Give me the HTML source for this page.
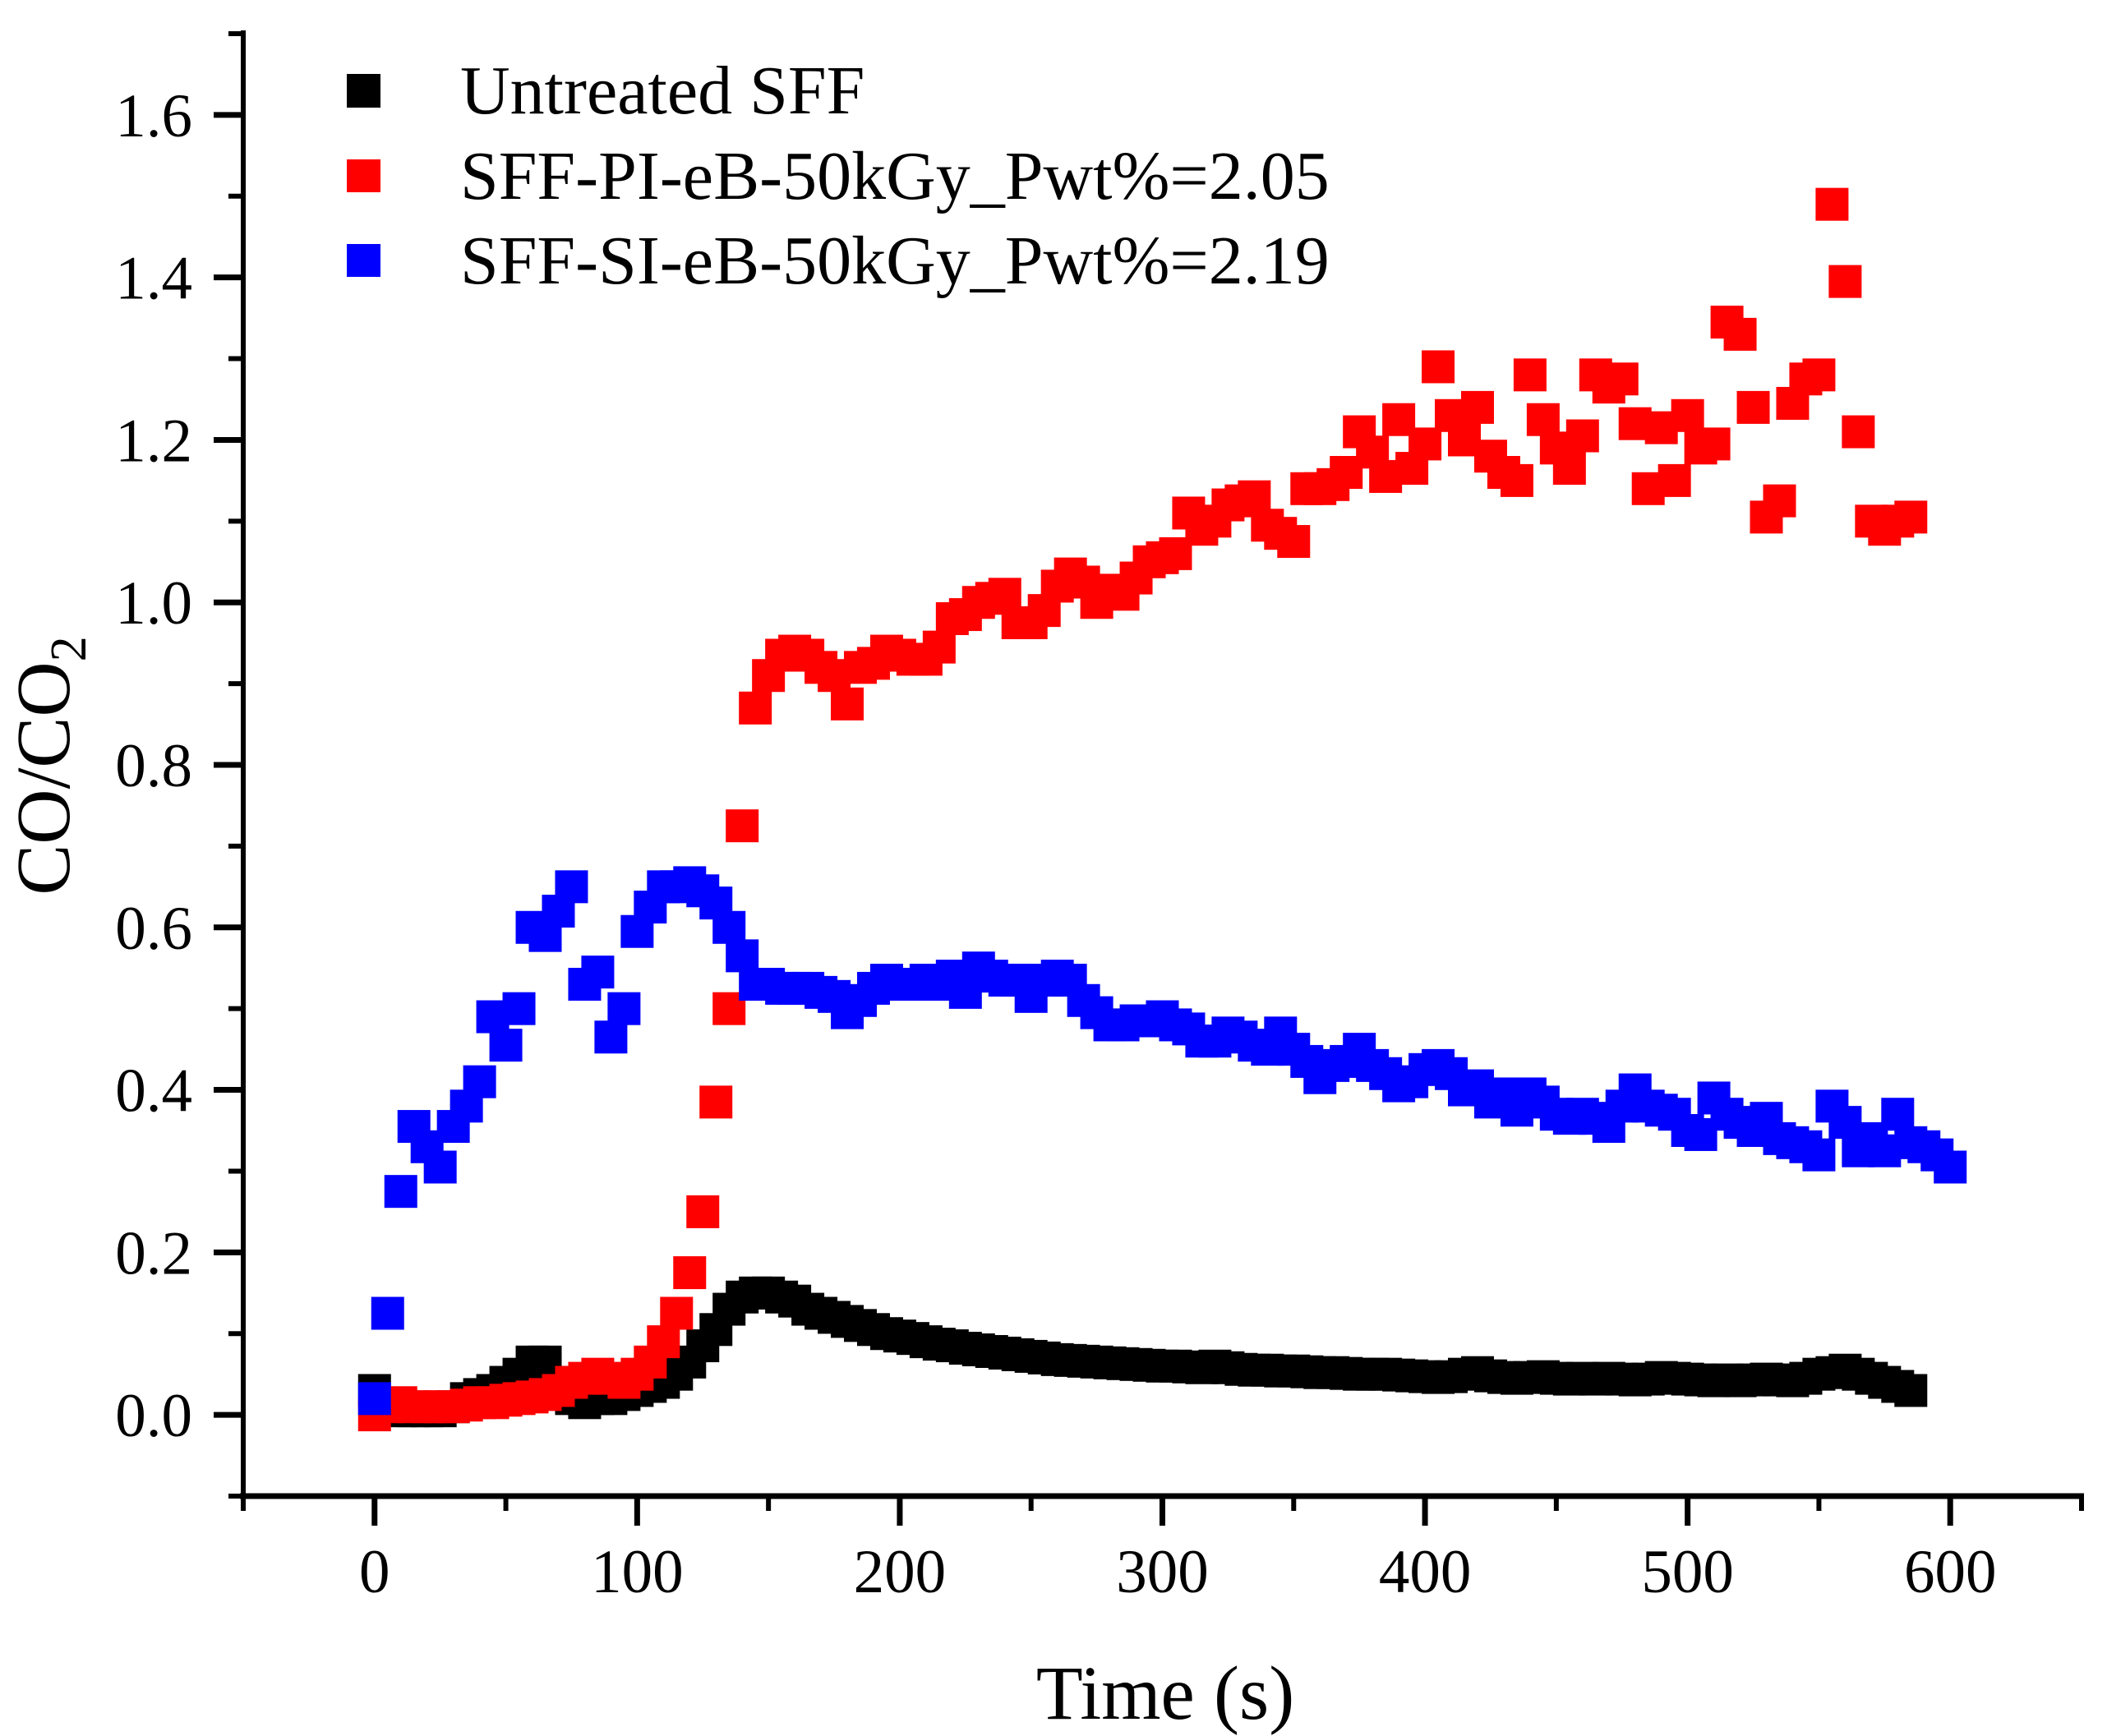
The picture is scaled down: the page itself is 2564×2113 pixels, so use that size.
<!DOCTYPE html>
<html><head><meta charset="utf-8"><style>
html,body{margin:0;padding:0;background:#fff;}
svg{display:block;font-family:"Liberation Serif",serif;}
</style></head><body>
<svg id="chart" width="2564" height="2113" viewBox="0 0 2564 2113" xmlns="http://www.w3.org/2000/svg">
<g id="marks"></g>
<g id="axes"></g>
<g>
  <rect x="422" y="90" width="41" height="41" fill="#000"/>
  <text x="560" y="138" font-size="84">Untreated SFF</text>
  <rect x="422" y="194" width="41" height="40" fill="#f00"/>
  <text x="560" y="242" font-size="84">SFF-PI-eB-50kGy_Pwt%=2.05</text>
  <rect x="422" y="297" width="41" height="40" fill="#00f"/>
  <text x="560" y="345" font-size="84">SFF-SI-eB-50kGy_Pwt%=2.19</text>
</g>
<text transform="translate(84,932) rotate(-90)" text-anchor="middle" font-size="93">CO/CO<tspan font-size="62" dy="20">2</tspan></text>
<text x="1418" y="2092" text-anchor="middle" font-size="93">Time (s)</text>
</svg>
<script>
const blackT = [0,5,10,15,20,25,30,35,40,45,50,55,60,65,70,75,80,85,90,95,100,105,110,115,120,125,130,135,140,145,150,155,160,165,170,175,180,185,190,195,200,205,210,215,220,225,230,235,240,245,250,255,260,265,270,275,280,285,290,295,300,305,310,315,320,325,330,335,340,345,350,355,360,365,370,375,380,385,390,395,400,405,410,415,420,425,430,435,440,445,450,455,460,465,470,475,480,485,490,495,500,505,510,515,520,525,530,535,540,545,550,555,560,565,570,575,580,585];
const blackV = [0.03,0.01,0.005,0.005,0.005,0.005,0.01,0.02,0.025,0.03,0.04,0.05,0.065,0.065,0.04,0.02,0.015,0.02,0.02,0.025,0.03,0.035,0.04,0.05,0.065,0.085,0.105,0.13,0.145,0.15,0.15,0.145,0.14,0.13,0.125,0.12,0.115,0.11,0.105,0.1,0.097,0.094,0.09,0.087,0.085,0.082,0.08,0.078,0.076,0.074,0.072,0.07,0.068,0.067,0.066,0.065,0.064,0.063,0.062,0.061,0.06,0.06,0.059,0.058,0.06,0.058,0.056,0.055,0.055,0.054,0.054,0.053,0.052,0.052,0.051,0.05,0.05,0.05,0.049,0.048,0.047,0.046,0.047,0.05,0.052,0.048,0.046,0.045,0.046,0.047,0.045,0.044,0.045,0.044,0.045,0.044,0.043,0.044,0.046,0.045,0.044,0.043,0.042,0.043,0.042,0.043,0.044,0.043,0.042,0.045,0.05,0.052,0.055,0.05,0.045,0.04,0.035,0.03];
const redT = [0,5,10,15,20,25,30,35,40,45,50,55,60,65,70,75,80,85,90,95,100,105,110,115,120,125,130,135,140,145,150,155,160,165,170,175,180,185,190,195,200,205,210,215,220,225,230,235,240,245,250,255,260,265,270,275,280,285,290,295,300,305,310,315,320,325,330,335,340,345,350,355,360,365,370,375,380,385,390,395,400,405,410,415,420,425,430,435,440,445,450,455,460,465,470,475,480,485,490,495,500,505,510,515,520,525,530,535,540,545,550,555,560,565,570,575,580,585];
const redV = [0.0,0.01,0.015,0.01,0.01,0.01,0.01,0.012,0.015,0.015,0.018,0.02,0.022,0.025,0.03,0.04,0.045,0.05,0.045,0.04,0.05,0.065,0.09,0.125,0.175,0.25,0.385,0.5,0.725,0.87,0.91,0.935,0.94,0.935,0.92,0.91,0.875,0.92,0.925,0.94,0.935,0.93,0.93,0.945,0.98,0.985,1.0,1.005,1.01,0.975,0.975,0.99,1.02,1.035,1.025,1.0,1.015,1.01,1.03,1.05,1.055,1.06,1.11,1.09,1.1,1.12,1.125,1.13,1.095,1.085,1.075,1.14,1.14,1.145,1.16,1.21,1.185,1.155,1.225,1.165,1.195,1.29,1.23,1.2,1.24,1.18,1.16,1.15,1.28,1.225,1.19,1.165,1.205,1.28,1.265,1.275,1.22,1.14,1.215,1.15,1.23,1.19,1.195,1.345,1.33,1.24,1.105,1.125,1.245,1.275,1.28,1.49,1.395,1.21,1.1,1.09,1.1,1.105];
const blueT = [0,5,10,15,20,25,30,35,40,45,50,55,60,65,70,75,80,85,90,95,100,105,110,115,120,125,130,135,140,145,150,155,160,165,170,175,180,185,190,195,200,205,210,215,220,225,230,235,240,245,250,255,260,265,270,275,280,285,290,295,300,305,310,315,320,325,330,335,340,345,350,355,360,365,370,375,380,385,390,395,400,405,410,415,420,425,430,435,440,445,450,455,460,465,470,475,480,485,490,495,500,505,510,515,520,525,530,535,540,545,550,555,560,565,570,575,580,585,590,595,600];
const blueV = [0.02,0.125,0.275,0.355,0.33,0.305,0.355,0.38,0.41,0.49,0.455,0.5,0.6,0.59,0.62,0.65,0.53,0.545,0.465,0.5,0.595,0.625,0.65,0.65,0.655,0.645,0.63,0.6,0.565,0.53,0.53,0.525,0.525,0.525,0.52,0.515,0.495,0.51,0.525,0.535,0.53,0.53,0.535,0.53,0.54,0.52,0.55,0.54,0.535,0.535,0.515,0.535,0.54,0.535,0.51,0.495,0.48,0.48,0.485,0.485,0.49,0.48,0.475,0.46,0.46,0.47,0.465,0.455,0.45,0.47,0.45,0.435,0.415,0.43,0.435,0.45,0.43,0.42,0.405,0.41,0.425,0.43,0.42,0.4,0.405,0.385,0.395,0.375,0.395,0.385,0.37,0.365,0.37,0.365,0.355,0.38,0.4,0.38,0.375,0.37,0.35,0.345,0.39,0.37,0.36,0.35,0.365,0.34,0.335,0.33,0.32,0.38,0.36,0.325,0.34,0.325,0.37,0.335,0.33,0.32,0.305];
const xMajorTicks = [0,100,200,300,400,500,600];
const xMinorTicks = [-50,50,150,250,350,450,550,650];
const yMajorTicks = [0.0,0.2,0.4,0.6,0.8,1.0,1.2,1.4,1.6];
const yMinorTicks = [-0.1,0.1,0.3,0.5,0.7,0.9,1.1,1.3,1.5,1.7];

const NS = 'http://www.w3.org/2000/svg';
const X0 = 296, X1 = 2533, XMIN = -50, XMAX = 650;
const Y0 = 1821, Y1 = 41, YMIN = -0.1, YMAX = 1.7;
function xs(t){ return X0 + (t - XMIN) / (XMAX - XMIN) * (X1 - X0); }
function ys(v){ return Y0 - (v - YMIN) / (YMAX - YMIN) * (Y0 - Y1); }
function mk(tag, attrs, parent){ const e = document.createElementNS(NS, tag); for (const k in attrs) e.setAttribute(k, attrs[k]); parent.appendChild(e); return e; }

const marks = document.getElementById('marks');
const M = 40;
function drawSeries(T, V, color, name){
  const g = mk('g', {}, marks);
  
  
  for (let i = 0; i < T.length; i++){
    const r = mk('rect', {x: xs(T[i]) - M/2, y: ys(V[i]) - M/2, width: M, height: M, fill: color}, g);
    
    
  }
}
drawSeries(blackT, blackV, '#000', 'untreated');
drawSeries(redT, redV, '#f00', 'pi-50kgy');
drawSeries(blueT, blueV, '#00f', 'si-50kgy');

const axes = document.getElementById('axes');
const yl = mk('line', {x1: X0, y1: Y1 - 4, x2: X0, y2: Y0 + 4, stroke: '#000', 'stroke-width': 6}, axes);


const xl = mk('line', {x1: X0 - 4, y1: Y0, x2: X1 + 3, y2: Y0, stroke: '#000', 'stroke-width': 7}, axes);



for (const t of xMajorTicks){
  const l = mk('line', {x1: xs(t), y1: Y0, x2: xs(t), y2: Y0 + 36, stroke: '#000', 'stroke-width': 7}, axes);
  
  
  const tx = mk('text', {x: xs(t), y: 1938, 'text-anchor': 'middle', 'font-size': 75}, axes);
  tx.textContent = String(t);
  
  
}
for (const t of xMinorTicks){
  const l = mk('line', {x1: xs(t), y1: Y0, x2: xs(t), y2: Y0 + 18, stroke: '#000', 'stroke-width': 6}, axes);
  
  
}
for (const v of yMajorTicks){
  const l = mk('line', {x1: X0 - 36, y1: ys(v), x2: X0, y2: ys(v), stroke: '#000', 'stroke-width': 7}, axes);
  
  
  const tx = mk('text', {x: 234, y: ys(v) + 26, 'text-anchor': 'end', 'font-size': 75}, axes);
  tx.textContent = v.toFixed(1);
  
  
}
for (const v of yMinorTicks){
  const l = mk('line', {x1: X0 - 18, y1: ys(v), x2: X0, y2: ys(v), stroke: '#000', 'stroke-width': 6}, axes);
  
  
}
</script>
</body></html>
